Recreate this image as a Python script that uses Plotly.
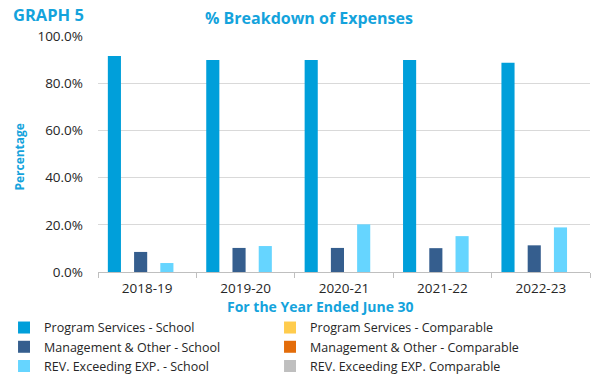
import plotly.graph_objects as go

years = ["2018-19", "2019-20", "2020-21", "2021-22", "2022-23"]

program_school = [91.5, 89.8, 89.8, 89.8, 88.7]
program_comparable = [None, None, None, None, None]
mgmt_school = [8.5, 10.2, 10.2, 10.1, 11.3]
mgmt_comparable = [None, None, None, None, None]
rev_school = [3.8, 11.0, 20.2, 15.2, 18.9]
rev_comparable = [None, None, None, None, None]

series = [
    ("Program Services - School", program_school, "#009FDA"),
    ("Program Services - Comparable", program_comparable, "#FFCC4D"),
    ("Management & Other - School", mgmt_school, "#355E8E"),
    ("Management & Other - Comparable", mgmt_comparable, "#E36C0A"),
    ("REV. Exceeding EXP. - School", rev_school, "#66D5FF"),
    ("REV. Exceeding EXP. Comparable", rev_comparable, "#BFBFBF"),
]

FONT = "Open Sans"
BLUE = "#14A3DC"

fig = go.Figure()
for name, vals, color in series:
    fig.add_trace(go.Bar(
        x=years, y=vals, name=name,
        marker=dict(color=color, line=dict(width=0)),
    ))

fig.update_layout(
    width=591, height=379,
    margin=dict(l=98, r=1, t=36, b=107, autoexpand=False),
    paper_bgcolor="white", plot_bgcolor="white",
    barmode="group", bargap=0.2, bargroupgap=0,
    font=dict(family=FONT, size=13, color="#262626"),
    showlegend=True,
    legend=dict(
        orientation="h",
        x=-0.191, xanchor="left", y=-0.1733, yanchor="top",
        entrywidth=221, entrywidthmode="pixels",
        font=dict(family=FONT, size=12.5, color="#262626"),
        itemsizing="constant", tracegroupgap=0,
        bgcolor="rgba(0,0,0,0)",
    ),
    annotations=[
        dict(text="<b>GRAPH 5</b>", xref="paper", yref="paper",
             x=-0.177, y=1.093, xanchor="left", yanchor="middle",
             showarrow=False, font=dict(family=FONT, size=16.5, color=BLUE)),
        dict(text="<b>% Breakdown of Expenses</b>", xref="paper", yref="paper",
             x=0.429, y=1.076, xanchor="center", yanchor="middle",
             showarrow=False, font=dict(family=FONT, size=16, color=BLUE)),
        dict(text="<b>For the Year Ended June 30</b>", xref="paper", yref="paper",
             x=0.452, y=-0.147, xanchor="center", yanchor="middle",
             showarrow=False, font=dict(family=FONT, size=14, color=BLUE)),
        dict(text="<b>Percentage</b>", xref="paper", yref="paper",
             x=-0.1585, y=0.489, xanchor="center", yanchor="middle",
             textangle=-90, showarrow=False,
             font=dict(family=FONT, size=12, color=BLUE)),
    ],
)

fig.update_xaxes(
    showline=True, linecolor="#BFBFBF", linewidth=1,
    ticks="outside", tickson="boundaries", ticklen=5, tickcolor="#BFBFBF",
    showgrid=False, ticklabelstandoff=4,
    tickfont=dict(family=FONT, size=13.5, color="#262626"),
)
fig.update_yaxes(
    range=[0, 100], dtick=20, tickformat=".1f", ticksuffix="%",
    showgrid=True, gridcolor="#D9D9D9", gridwidth=1,
    zeroline=False, showline=False, ticks="", ticklabelstandoff=14,
    tickfont=dict(family=FONT, size=13.5, color="#262626"),
)

fig.write_html("out.html")
